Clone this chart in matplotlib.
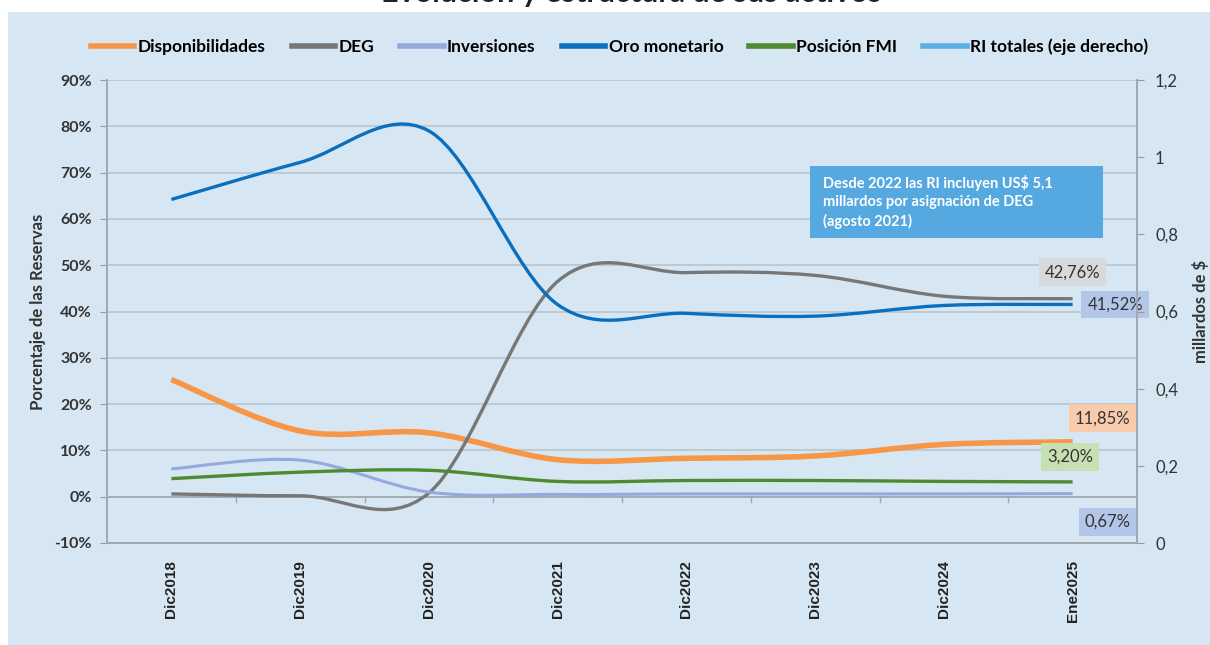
import numpy as np
import matplotlib
matplotlib.use('Agg')
import matplotlib.pyplot as plt
from matplotlib.path import Path
from matplotlib.patches import PathPatch, Rectangle
from matplotlib.lines import Line2D

# categories and series (percent of reserves)
CATS = ['Dic2018', 'Dic2019', 'Dic2020', 'Dic2021', 'Dic2022', 'Dic2023', 'Dic2024', 'Ene2025']
DISPONIBILIDADES = [25.3, 14.2, 13.8, 8.0, 8.3, 8.8, 11.3, 11.85]
DEG = [0.6, 0.2, 0.8, 46.5, 48.4, 47.8, 43.3, 42.76]
INVERSIONES = [6.0, 7.9, 1.0, 0.5, 0.6, 0.6, 0.6, 0.67]
ORO = [64.2, 72.2, 79.0, 41.5, 39.6, 39.0, 41.3, 41.52]
FMI = [3.9, 5.3, 5.7, 3.3, 3.5, 3.5, 3.3, 3.20]

END_LABELS = ['42,76%', '41,52%', '11,85%', '3,20%', '0,67%']
NOTE = 'Desde 2022 las RI incluyen US$ 5,1\nmillardos por asignación de DEG\n(agosto 2021)'

BG = '#d6e7f3'
C_DISP = '#f79646'
C_DEG = '#777777'
C_INV = '#95a9dd'
C_ORO = '#0a6fbe'
C_FMI = '#4e8a2f'
C_RI = '#5aaee3'
GRID = '#b9c5cd'

FONT = 'Lato'


def smooth_path(xs, ys):
    """Excel-style smoothed line: cubic Bezier through the points."""
    p = np.column_stack([xs, ys]).astype(float)
    n = len(p)
    verts = [p[0]]
    codes = [Path.MOVETO]
    for i in range(n - 1):
        p0 = p[i - 1] if i > 0 else p[i]
        p3 = p[i + 2] if i + 2 < n else p[i + 1]
        c1 = p[i] + (p[i + 1] - p0) / 6.0
        c2 = p[i + 1] - (p3 - p[i]) / 6.0
        verts += [c1, c2, p[i + 1]]
        codes += [Path.CURVE4] * 3
    return Path(verts, codes)


fig = plt.figure(figsize=(12.1, 6.45), dpi=100, facecolor='white')
fig.patches.append(Rectangle((8 / 1210, 0), 1, 1 - 12 / 645, transform=fig.transFigure,
                             facecolor=BG, edgecolor='none', zorder=-5))
# title is cut off at the top edge, as in the source image
fig.text(0.522, 1 - 2 / 645, 'Evolución y estructura de sus activos', ha='center',
         va='baseline', fontsize=22, fontweight='bold', family=FONT, color='#222222',
         zorder=-4)

ax = fig.add_axes([107 / 1210, 1 - 543 / 645, 1030 / 1210, (543 - 80) / 645])
ax.set_facecolor(BG)
x = np.arange(len(CATS))

series = [(DISPONIBILIDADES, C_DISP, 4.0, 'Disponibilidades'),
          (DEG, C_DEG, 2.4, 'DEG'),
          (INVERSIONES, C_INV, 2.2, 'Inversiones'),
          (ORO, C_ORO, 2.4, 'Oro monetario'),
          (FMI, C_FMI, 2.4, 'Posición FMI')]
for vals, col, lw, lab in series:
    ax.add_patch(PathPatch(smooth_path(x, vals), facecolor='none', edgecolor=col,
                           lw=lw, capstyle='butt', zorder=3))

ax.set_xlim(-0.5, len(CATS) - 0.5)
ax.set_ylim(-10, 90)
ax.set_yticks(np.arange(-10, 91, 10))
ax.set_yticklabels([f'{v}%' for v in range(-10, 91, 10)], fontsize=11.5,
                   fontweight='bold', family=FONT, color='#333333')
ax.set_xticks(x)
ax.set_xticklabels(CATS, rotation=90, fontsize=11, fontweight='bold',
                   family='Liberation Sans', color='#222222')
ax.tick_params(axis='x', length=0, pad=12)
ax.tick_params(axis='y', length=5, color='#999999', pad=6)
ax.grid(axis='y', color=GRID, lw=1.2, zorder=1)
ax.axhline(0, color='#9ea8ae', lw=1.2, zorder=2)
# category boundary ticks on the 0% line
for b in np.arange(0.5, len(CATS) - 1, 1.0):
    ax.plot([b, b], [0, -1.2], color='#9ea8ae', lw=1, zorder=2)
ax.spines['top'].set_visible(False)
for s in ['left', 'bottom', 'right']:
    ax.spines[s].set_color('#a0a8ae')
    ax.spines[s].set_linewidth(1.2)
ax.set_ylabel('Porcentaje de las Reservas', fontsize=12, fontweight='bold', family=FONT,
              color='#333333', labelpad=6)

ax2 = ax.twinx()
ax2.set_ylim(0, 1.2)
rt = [0, 0.2, 0.4, 0.6, 0.8, 1.0, 1.2]
ax2.set_yticks(rt)
ax2.set_yticklabels(['0', '0,2', '0,4', '0,6', '0,8', '1', '1,2'], fontsize=12,
                    family=FONT, color='#333333')
ax2.tick_params(axis='y', length=5, color='#999999', pad=8)
ax2.spines['top'].set_visible(False)
for s in ['left', 'bottom', 'right']:
    ax2.spines[s].set_color('#a0a8ae')
    ax2.spines[s].set_linewidth(1.2)
ax2.set_ylabel('millardos de $', fontsize=12, fontweight='bold', family=FONT,
               color='#333333', labelpad=10)

# end-point labels
last = len(CATS) - 1
lab_specs = [(DEG[-1], END_LABELS[0], '#d9d9d9', 0.0, 5.7),
             (ORO[-1], END_LABELS[1], '#b4c6e7', 0.33, 0.0),
             (DISPONIBILIDADES[-1], END_LABELS[2], '#f8cbad', 0.23, 5.1),
             (FMI[-1], END_LABELS[3], '#c6e0b4', -0.02, 5.4),
             (INVERSIONES[-1], END_LABELS[4], '#b4c6e7', 0.27, -6.1)]
for val, txt, fc, dx, dy in lab_specs:
    ax.text(last + dx, val + dy, txt, ha='center', va='center', fontsize=12,
            family=FONT, color='#333333', zorder=5, clip_on=False,
            bbox=dict(boxstyle='square,pad=0.35', fc=fc, ec='none'))

ax.add_patch(Rectangle((0.6825, 0.659), 0.2845, 0.155, transform=ax.transAxes,
                       facecolor='#56a8e1', edgecolor='none', zorder=6))
ax.text(0.695, 0.737, NOTE, transform=ax.transAxes, ha='left', va='center',
        fontsize=10.5, fontweight='bold', family=FONT, color='white', zorder=7,
        linespacing=1.4)

handles = [Line2D([0], [0], color=c, lw=4) for c in
           [C_DISP, C_DEG, C_INV, C_ORO, C_FMI, C_RI]]
labels = ['Disponibilidades', 'DEG', 'Inversiones', 'Oro monetario', 'Posición FMI',
          'RI totales (eje derecho)']
fig.legend(handles, labels, loc='center', bbox_to_anchor=(0.512, 1 - 47 / 645), ncol=6,
           frameon=False, handlelength=2.5, handletextpad=0.2, columnspacing=1.5,
           prop={'family': FONT, 'weight': 'bold', 'size': 12.5})

fig.savefig('out.png', dpi=100, facecolor='white')
